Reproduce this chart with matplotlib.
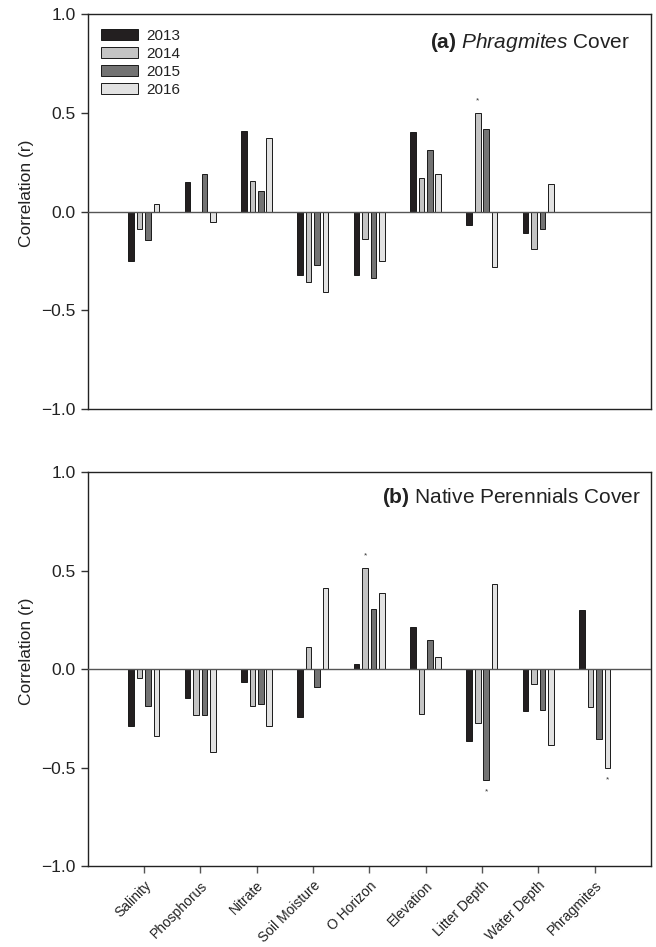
import numpy as np
import matplotlib
matplotlib.use("Agg")
from matplotlib import pyplot as plt
from matplotlib.patches import Patch

plt.rcParams['font.family'] = ['Liberation Sans', 'DejaVu Sans']
plt.rcParams['mathtext.fontset'] = 'custom'
plt.rcParams['mathtext.rm'] = 'Liberation Sans'
plt.rcParams['mathtext.it'] = 'Liberation Sans:italic'
plt.rcParams['mathtext.bf'] = 'Liberation Sans:bold'

categories = ['Salinity', 'Phosphorus', 'Nitrate', 'Soil Moisture', 'O Horizon',
              'Elevation', 'Litter Depth', 'Water Depth', 'Phragmites']
years = ['2013', '2014', '2015', '2016']
year_colors = ['#231f20', '#c4c4c4', '#737373', '#e2e2e2']

# (a) Phragmites cover -- no Phragmites row
phrag_2013 = [-0.25, 0.15, 0.41, -0.32, -0.32, 0.40, -0.07, -0.11, np.nan]
phrag_2014 = [-0.09, -0.005, 0.155, -0.355, -0.14, 0.17, 0.50, -0.19, np.nan]
phrag_2015 = [-0.145, 0.19, 0.105, -0.27, -0.335, 0.31, 0.42, -0.09, np.nan]
phrag_2016 = [0.04, -0.055, 0.37, -0.41, -0.25, 0.19, -0.28, 0.14, np.nan]
phrag_stars = [(6, 1)]  # (category, year index)

# (b) Native perennials cover
native_2013 = [-0.29, -0.145, -0.065, -0.245, 0.025, 0.215, -0.365, -0.215, 0.30]
native_2014 = [-0.045, -0.235, -0.19, 0.11, 0.515, -0.23, -0.275, -0.075, -0.195]
native_2015 = [-0.19, -0.235, -0.18, -0.09, 0.305, 0.145, -0.565, -0.21, -0.355]
native_2016 = [-0.34, -0.42, -0.29, 0.41, 0.385, 0.06, 0.43, -0.385, -0.505]
native_stars = [(4, 1), (6, 2), (8, 3)]

W, H = 656, 947
fig = plt.figure(figsize=(W / 100, H / 100), dpi=100)
ax_a = fig.add_axes([87.5 / W, 1 - 409 / H, 563.5 / W, 395 / H])
ax_b = fig.add_axes([87.5 / W, 1 - 866 / H, 563.5 / W, 394 / H])

x = np.arange(1, len(categories) + 1)
offsets = [-0.225, -0.075, 0.075, 0.225]
width = 0.1


def draw_panel(ax, series, stars, title, title_x, title_y, show_legend, show_xlabels):
    for vals, off, col in zip(series, offsets, year_colors):
        ax.bar(x + off, vals, width=width, color=col, edgecolor='#1a1a1a',
               linewidth=0.7, zorder=3)
    for ci, yi in stars:
        v = series[yi][ci]
        ypos = v + 0.06 if v > 0 else v - 0.06
        ax.text(x[ci] + offsets[yi], ypos, '*', ha='center', va='center',
                fontsize=6, color='#333333')
    ax.axhline(0, color='#555555', linewidth=1.0, zorder=4)
    ax.set_xlim(0, 10)
    ax.set_ylim(-1.0, 1.0)
    ax.set_yticks([-1.0, -0.5, 0.0, 0.5, 1.0])
    ax.set_yticklabels(['\u22121.0', '\u22120.5', '0.0', '0.5', '1.0'])
    ax.tick_params(axis='y', direction='out', length=5, width=1,
                   labelsize=12.5, color='#333333', labelcolor='#222222')
    if show_xlabels:
        ax.set_xticks(x)
        ax.set_xticklabels(categories, rotation=45, ha='right',
                           rotation_mode='anchor', fontsize=10,
                           color='#222222')
        ax.tick_params(axis='x', direction='out', length=5, width=1,
                       color='#555555', pad=4)
    else:
        ax.set_xticks([])
    for sp in ax.spines.values():
        sp.set_color('#222222')
        sp.set_linewidth(1.0)
    ax.set_ylabel('Correlation (r)', fontsize=12.5, color='#222222')
    ax.yaxis.set_label_coords(-0.095, 0.545)
    ax.text(title_x, title_y, title, transform=ax.transAxes, ha='right',
            va='center', fontsize=15, color='#222222')
    if show_legend:
        handles = [Patch(facecolor=c, edgecolor='#1a1a1a', linewidth=0.7)
                   for c in year_colors]
        ax.legend(handles, years, loc='upper left', frameon=False,
                  fontsize=11, handlelength=2.4, handleheight=0.8,
                  labelspacing=0.25, borderaxespad=0.3, handletextpad=0.55,
                  bbox_to_anchor=(0.005, 0.99), labelcolor='#222222')


draw_panel(ax_a, [phrag_2013, phrag_2014, phrag_2015, phrag_2016], phrag_stars,
           r'$\bf{(a)}$ $\it{Phragmites}$ Cover', 0.963, 0.927, True, False)
draw_panel(ax_b, [native_2013, native_2014, native_2015, native_2016], native_stars,
           r'$\bf{(b)}$ Native Perennials Cover', 0.982, 0.935, False, True)

fig.savefig('out.png', dpi=100)
